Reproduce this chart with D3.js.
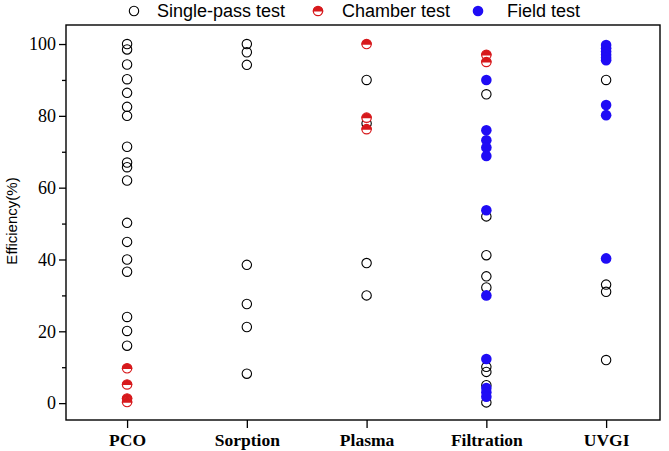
<!DOCTYPE html>
<html>
<head>
<meta charset="utf-8">
<script src="https://cdn.jsdelivr.net/npm/d3@7"></script>
<style>
  html, body { margin: 0; padding: 0; background: #fff; }
  svg { display: block; }
</style>
</head>
<body>
<svg id="chart" width="669" height="451"></svg>
<script>
// ---- data ----
const categories = ["PCO", "Sorption", "Plasma", "Filtration", "UVGI"];
const yMajorTicks = [0, 20, 40, 60, 80, 100];
const yMinorTicks = [10, 30, 50, 70, 90];
const legendLabels = ["Single-pass test", "Chamber test", "Field test"];

// values per category (same order as categories)
const singlePassValues = [
  [100, 98.5, 94.3, 90.2, 86.4, 82.5, 80, 71.4, 67, 65.7, 62, 50.2, 44.9, 40, 36.6, 24, 20.1, 16],
  [100, 97.7, 94.2, 38.5, 27.6, 21.2, 8.2],
  [90, 77.9, 39, 30],
  [86, 52, 41.2, 35.3, 32.2, 10.1, 8.7, 5, 0.2],
  [90, 33, 31, 12]
];
const chamberValues = [
  [9.7, 5.2, 1.3, 0.3],
  [],
  [100, 79.5, 76.3],
  [97, 95],
  []
];
const fieldValues = [
  [],
  [],
  [],
  [90, 76, 73.2, 71.2, 68.8, 53.7, 30, 12.3, 4.2, 3, 1.8],
  [99.7, 98.8, 97.9, 97, 96.2, 95.5, 83, 80.2, 40.3]
];

// ---- layout ----
const svg = d3.select("#chart");
const plotLeft = 66, plotRight = 660, plotTop = 25, plotBottom = 420;
const RED = "#d7191c", BLUE = "#1f0cf5";

const x = d3.scaleLinear().domain([0.49, 5.45]).range([plotLeft, plotRight]);
const y = d3.scaleLinear().domain([-4.7, 105.3]).range([plotBottom, plotTop]);

function flatten(vals) {
  const out = [];
  vals.forEach((arr, i) => arr.forEach(v => out.push({ c: i + 1, v })));
  return out;
}

// frame
svg.append("rect")
  .attr("x", plotLeft).attr("y", plotTop)
  .attr("width", plotRight - plotLeft).attr("height", plotBottom - plotTop)
  .attr("fill", "none").attr("stroke", "#000").attr("stroke-width", 1.4);

// y axis major
const yAxis = d3.axisLeft(y).tickValues(yMajorTicks).tickSize(7).tickPadding(3);
const gy = svg.append("g").attr("transform", `translate(${plotLeft},0)`).call(yAxis);
gy.select(".domain").remove();
gy.selectAll("line").attr("stroke-width", 1.3);
gy.selectAll("text")
  .attr("font-family", "'Liberation Serif', 'Times New Roman', serif")
  .attr("font-size", 18).attr("fill", "#000");

// y axis minor
const yMinor = d3.axisLeft(y).tickValues(yMinorTicks).tickSize(4).tickFormat("");
const gym = svg.append("g").attr("transform", `translate(${plotLeft},0)`).call(yMinor);
gym.select(".domain").remove();
gym.selectAll("line").attr("stroke-width", 1.3);

// x axis
const xAxis = d3.axisBottom(x).tickValues([1, 2, 3, 4, 5])
  .tickFormat(d => categories[d - 1]).tickSize(8).tickPadding(6);
const gx = svg.append("g").attr("transform", `translate(0,${plotBottom})`).call(xAxis);
gx.select(".domain").remove();
gx.selectAll("line").attr("stroke-width", 1.3);
gx.selectAll("text")
  .attr("font-family", "'Liberation Serif', 'Times New Roman', serif")
  .attr("font-weight", "bold")
  .attr("font-size", 17.5).attr("fill", "#000");

// y title
svg.append("text")
  .attr("transform", `translate(17,221) rotate(-90)`)
  .attr("text-anchor", "middle")
  .attr("font-family", "'Liberation Sans', Arial, sans-serif")
  .attr("font-size", 15).attr("fill", "#000")
  .text("Efficiency(%)");

// markers
const R = 4.7;
function openCircle(g, cx, cy) {
  g.append("circle").attr("cx", cx).attr("cy", cy).attr("r", R)
    .attr("fill", "none").attr("stroke", "#000").attr("stroke-width", 1.1);
}
function halfCircle(g, cx, cy) {
  g.append("circle").attr("cx", cx).attr("cy", cy).attr("r", R)
    .attr("fill", "#fff").attr("stroke", RED).attr("stroke-width", 1.2);
  const arc = d3.arc().innerRadius(0).outerRadius(R + 0.6)
    .startAngle(-Math.PI / 2).endAngle(Math.PI / 2);
  g.append("path").attr("d", arc()).attr("transform", `translate(${cx},${cy + 0.6})`)
    .attr("fill", RED);
}
function filledCircle(g, cx, cy) {
  g.append("circle").attr("cx", cx).attr("cy", cy).attr("r", R + 0.6)
    .attr("fill", BLUE).attr("stroke", "none");
}

const gp = svg.append("g");
flatten(singlePassValues).forEach(d => openCircle(gp, x(d.c), y(d.v)));
flatten(chamberValues).forEach(d => halfCircle(gp, x(d.c), y(d.v)));
flatten(fieldValues).forEach(d => filledCircle(gp, x(d.c), y(d.v)));

// legend
const legendFont = "'Liberation Sans', Arial, sans-serif";
const legendItems = [
  { label: legendLabels[0], mx: 134, tx: 157, draw: openCircle },
  { label: legendLabels[1], mx: 318, tx: 342, draw: halfCircle },
  { label: legendLabels[2], mx: 478, tx: 507, draw: filledCircle }
];
const gl = svg.append("g");
legendItems.forEach(it => {
  it.draw(gl, it.mx, 11);
  gl.append("text").attr("x", it.tx).attr("y", 17)
    .attr("font-family", legendFont).attr("font-size", 18).attr("fill", "#000")
    .text(it.label);
});
</script>
</body>
</html>
